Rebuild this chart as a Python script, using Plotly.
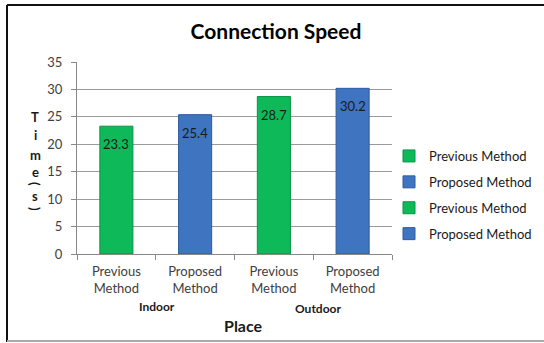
import plotly.graph_objects as go

# ---- data ----
places = ["Indoor", "Indoor", "Outdoor", "Outdoor"]
methods = ["Previous Method", "Proposed Method", "Previous Method", "Proposed Method"]
values = [23.3, 25.4, 28.7, 30.2]
tick_labels = ["Previous<br>Method", "Proposed<br>Method", "Previous<br>Method", "Proposed<br>Method"]
group_labels = ["Indoor", "Outdoor"]
y_ticks = [0, 5, 10, 15, 20, 25, 30, 35]
y_title_chars = ["T", "i", "m", "e", "(", "s", ")"]

colors = {"Previous Method": "#0DB959", "Proposed Method": "#3F74C0"}
edges = {"Previous Method": "#0A9447", "Proposed Method": "#2E5B9F"}

FONT = "Lato, 'Open Sans', sans-serif"
cats = [f"{p} {m}" for p, m in zip(places, methods)]

fig = go.Figure()
for i, (c, m, v) in enumerate(zip(cats, methods, values)):
    fig.add_trace(go.Bar(
        x=[c], y=[v], name=m, legendgroup=f"g{i}",
        width=0.42,
        marker=dict(color=colors[m], line=dict(color=edges[m], width=1)),
    ))
    # data label inside the top of the bar
    fig.add_annotation(x=c, y=v, xref="x", yref="y", text=f"{v}",
                       showarrow=False, xanchor="center", yanchor="top", yshift=-8,
                       font=dict(family=FONT, size=13, color="#1a1a1a"))

L, R, T, B = 77, 152, 62, 89
W, H = 544, 343
pw, ph = W - L - R, H - T - B

def px(x):
    return (x - L) / pw

def py(y):
    return (H - B - y) / ph

fig.update_layout(
    width=W, height=H,
    margin=dict(l=L, r=R, t=T, b=B, autoexpand=False),
    paper_bgcolor="white", plot_bgcolor="white",
    barmode="overlay",
    font=dict(family=FONT, size=13, color="#404040"),
    title=dict(text="<b>Connection Speed</b>", xref="container", x=276 / W,
               yref="container", y=1 - 32 / H, xanchor="center", yanchor="middle",
               font=dict(family=FONT, size=21, color="#000000")),
    showlegend=True,
    legend=dict(x=px(389), xanchor="left", y=py(195), yanchor="middle",
                traceorder="grouped", tracegroupgap=6, itemwidth=30,
                font=dict(family=FONT, size=13, color="#1a1a1a"),
                bgcolor="rgba(0,0,0,0)"),
    xaxis=dict(
        type="category", categoryorder="array", categoryarray=cats,
        tickvals=cats, ticktext=tick_labels, tickson="boundaries",
        ticks="outside", ticklen=5, tickcolor="#888888",
        showline=True, linecolor="#888888", linewidth=1,
        showgrid=False, tickfont=dict(family=FONT, size=13, color="#404040"),
        ticklabelstandoff=5,
    ),
    yaxis=dict(
        range=[0, 35], tickvals=y_ticks, ticks="outside", ticklen=5,
        tickcolor="#888888", showline=True, linecolor="#888888", linewidth=1,
        showgrid=True, gridcolor="#9a9a9a", gridwidth=1, zeroline=False,
        tickfont=dict(family=FONT, size=13, color="#404040"),
        ticklabelstandoff=6,
    ),
)

# group labels
for g, xc, yc in zip(group_labels, [157, 318], [306, 308]):
    fig.add_annotation(text=f"<b>{g}</b>", xref="paper", yref="paper",
                       x=px(xc), y=py(yc), showarrow=False,
                       xanchor="center", yanchor="middle",
                       font=dict(family=FONT, size=12, color="#1a1a1a"))

# x axis title
fig.add_annotation(text="<b>Place</b>", xref="paper", yref="paper",
                   x=px(243), y=py(325), showarrow=False,
                   xanchor="center", yanchor="middle",
                   font=dict(family=FONT, size=16, color="#1a1a1a"))

# y axis title, stacked letters (parentheses turned sideways as in the reference)
for ch, yc in zip(y_title_chars, [117, 135, 155, 172, 184, 196, 209]):
    fig.add_annotation(text=f"<b>{ch}</b>", xref="paper", yref="paper",
                       x=px(35), y=py(yc), showarrow=False,
                       xanchor="center", yanchor="middle",
                       textangle=90 if ch in "()" else 0,
                       font=dict(family=FONT, size=13, color="#1a1a1a"))

# outer frame
fig.add_shape(type="line", xref="paper", yref="paper", x0=px(7), x1=px(546), y0=py(5), y1=py(5),
              line=dict(color="#111111", width=2))
fig.add_shape(type="line", xref="paper", yref="paper", x0=px(7), x1=px(7), y0=py(5), y1=py(342),
              line=dict(color="#111111", width=2))
fig.add_shape(type="line", xref="paper", yref="paper", x0=px(7), x1=px(546), y0=py(341), y1=py(341),
              line=dict(color="#aaaaaa", width=2))

fig.write_html("out.html")
